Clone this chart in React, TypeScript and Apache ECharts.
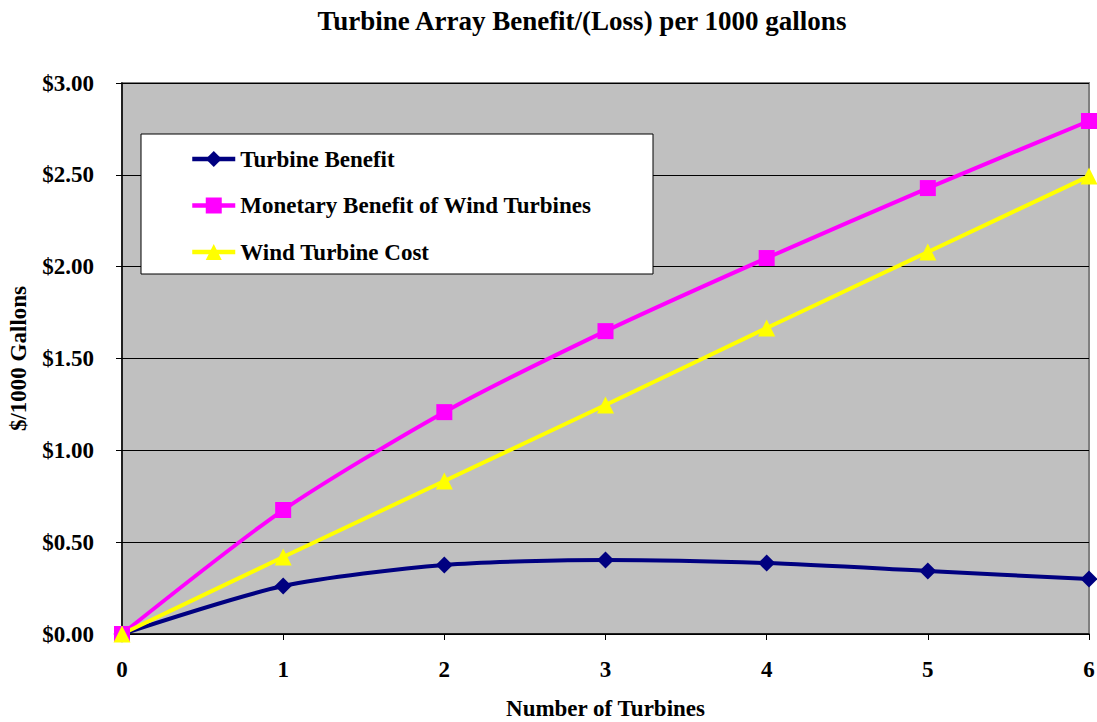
import React, { useEffect, useRef } from "react";
import * as echarts from "echarts";

const turbines = [0, 1, 2, 3, 4, 5, 6];
const turbineBenefit = [0, 0.261, 0.376, 0.403, 0.386, 0.343, 0.299];
const monetaryBenefit = [0, 0.675, 1.208, 1.649, 2.047, 2.428, 2.793];
const windTurbineCost = [0, 0.419, 0.833, 1.247, 1.666, 2.08, 2.493];
const seriesNames = ["Turbine Benefit", "Monetary Benefit of Wind Turbines", "Wind Turbine Cost"];

const FONT = "'Liberation Serif', 'Times New Roman', serif";

export default function App() {
  const ref = useRef<HTMLDivElement>(null);
  useEffect(() => {
    const chart = echarts.init(ref.current!, null, { renderer: "svg" });
    const pair = (ys: number[]) => turbines.map((x, i) => [x, ys[i]]);
    const mk = (name: string, data: number[], color: string, symbol: string, size: number) => ({
      name,
      type: "line",
      data: pair(data),
      smooth: 0.25,
      symbol,
      symbolSize: size,
      lineStyle: { color, width: 4 },
      itemStyle: { color },
      z: 3,
    });
    chart.setOption({
      animation: false,
      backgroundColor: "#ffffff",
      textStyle: { fontFamily: FONT },
      title: {
        text: "Turbine Array Benefit/(Loss) per 1000 gallons",
        left: 577,
        textAlign: "center",
        top: 2,
        textStyle: { fontFamily: FONT, fontWeight: "bold", fontSize: 27, color: "#000" },
      },
      grid: {
        left: 122,
        top: 83,
        width: 967,
        height: 551,
        outerBoundsMode: "none",
        containLabel: false,
        show: true,
        backgroundColor: "#c0c0c0",
        borderColor: "#808080",
        borderWidth: 2,
      },
      graphic: [
        {
          type: "rect",
          shape: { x: 141, y: 134, width: 512, height: 140 },
          style: { fill: "#ffffff", stroke: "#000000", lineWidth: 1 },
          z: 10,
        },
      ],
      legend: {
        data: seriesNames,
        orient: "vertical",
        left: 185,
        top: 142.5,
        itemWidth: 43,
        itemHeight: 20,
        itemGap: 23.5,
        z: 20,
        lineStyle: { width: 4.5 },
        textStyle: { fontFamily: FONT, fontWeight: "bold", fontSize: 23, color: "#000", lineHeight: 23 },
      },
      xAxis: {
        type: "value",
        min: 0,
        max: 6,
        interval: 1,
        name: "Number of Turbines",
        nameLocation: "middle",
        nameGap: 63,
        nameTextStyle: { fontFamily: FONT, fontWeight: "bold", fontSize: 23, color: "#000" },
        axisLine: { show: true, lineStyle: { color: "#000", width: 1.5 } },
        axisTick: { show: true, inside: false, length: 6, lineStyle: { color: "#000" } },
        splitLine: { show: false },
        axisLabel: { margin: 24, fontFamily: FONT, fontWeight: "bold", fontSize: 23, color: "#000" },
      },
      yAxis: {
        type: "value",
        min: 0,
        max: 3,
        interval: 0.5,
        name: "$/1000 Gallons",
        nameLocation: "middle",
        nameGap: 92,
        nameTextStyle: { fontFamily: FONT, fontWeight: "bold", fontSize: 23, color: "#000" },
        axisLine: { show: true, lineStyle: { color: "#000", width: 1.5 } },
        axisTick: { show: true, inside: false, length: 6, lineStyle: { color: "#000" } },
        splitLine: { show: true, lineStyle: { color: "#000", width: 1 } },
        axisLabel: {
          margin: 28,
          fontFamily: FONT,
          fontWeight: "bold",
          fontSize: 23,
          color: "#000",
          formatter: (v: number) => "$" + v.toFixed(2),
        },
      },
      series: [
        mk(seriesNames[0], turbineBenefit, "#000080", "diamond", 17),
        mk(seriesNames[1], monetaryBenefit, "#ff00ff", "rect", 16),
        mk(seriesNames[2], windTurbineCost, "#ffff00", "triangle", 17),
      ],
    });
    return () => chart.dispose();
  }, []);
  return <div ref={ref} style={{ position: "fixed", left: 0, top: 0, width: 1097, height: 722 }} />;
}
